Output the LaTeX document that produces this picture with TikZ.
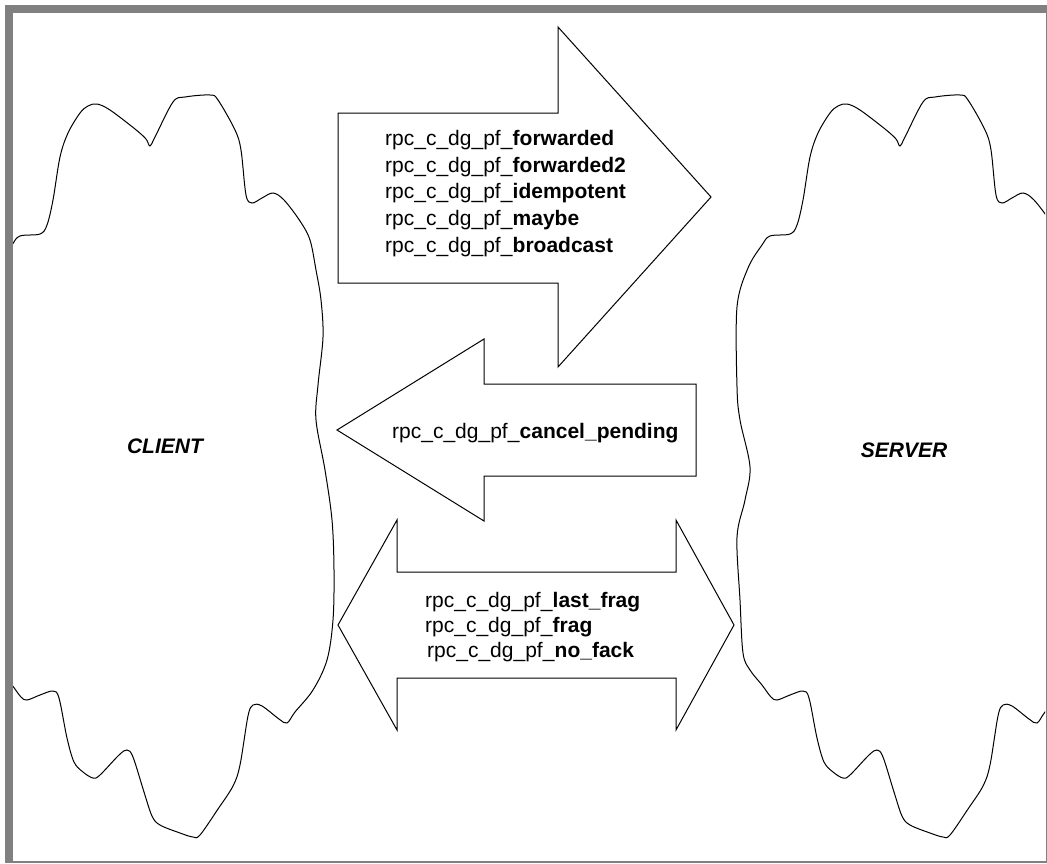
\documentclass[tikz,border=0pt]{standalone}
\usepackage{fontspec}
\setmainfont{Liberation Sans}
\definecolor{frame}{HTML}{808080}

% outline of one cloud, in pixel units
\newcommand\cloudline{plot[smooth cycle,tension=.55] coordinates {
  (20,236) (40,234) (47,225) (53,200) (60,157) (68,133) (80,113) (88,106) (97,104)
  (110,110) (135,129) (146,139) (150,146) (155,137) (173,102) (185,97) (210,95)
  (218,100) (235,130) (241,150) (246,195) (252,203) (262,198) (273,193) (284,200)
  (300,221) (310,240) (316,270) (321,300) (323,337) (318,385) (316,420) (325,470)
  (332,520) (334,570) (333,620) (327,660) (313,690) (295,712) (287,723) (279,719)
  (262,706) (253,705) (248,716) (240,765) (233,786) (218,809) (200,835) (193,837)
  (180,833) (160,825) (152,816) (144,792) (133,757) (127,750) (119,755) (100,775)
  (93,778) (83,772) (74,762) (67,738) (59,698) (53,691) (40,695) (27,700) (21,697)
  (12,685) (0,670) (-7,653) (-10,600) (-13,537) (-5,500) (0,467) (-10,420)
  (-13,387) (-13,307) (-2,268) (12,245)}}

\begin{document}
\begin{tikzpicture}[x=1pt,y=-1pt,
  shape line/.style={draw=black,line width=1pt,line join=miter,fill=white},
  flag/.style={font=\fontsize{21}{26}\selectfont,inner sep=0pt,anchor=base west},
  side/.style={font=\fontsize{21}{26}\selectfont\bfseries\itshape,inner sep=0pt},
]
\useasboundingbox (0,0) rectangle (1047,863);
\fill[white] (0,0) rectangle (1047,863);

% clouds, cut by the frame
\begin{scope}
  \clip (13,13) rectangle (1045,860);
  \draw[shape line] \cloudline;
  \begin{scope}[xshift=750pt]
    \draw[shape line] \cloudline;
  \end{scope}
\end{scope}
\node[side] (client) at (165,446) {CLIENT};
\node[side] (server) at (904,450) {SERVER};

% request arrow
\draw[shape line] (338,113) -- (558,113) -- (558,27) -- (711,197) -- (558,367)
  -- (558,283) -- (338,283) -- cycle;
\foreach \y/\id/\txt in {145/fwd/forwarded, 172/fwdtwo/forwarded2,
  198/idem/idempotent, 225/maybe/maybe, 252/bcast/broadcast}
  \node[flag] (\id) at (385,\y) {rpc\_c\_dg\_pf\_\textbf{\txt}};

% reply arrow
\draw[shape line] (337,430) -- (484,339) -- (484,384) -- (696,384) -- (696,476)
  -- (484,476) -- (484,521) -- cycle;
\node[flag] (cancel) at (392,438) {rpc\_c\_dg\_pf\_\textbf{cancel\_pending}};

% both ways
\draw[shape line] (338,625) -- (397,520) -- (397,572) -- (676,572) -- (676,520)
  -- (734,625) -- (676,730) -- (676,678) -- (397,678) -- (397,730) -- cycle;
\node[flag] (lastfrag) at (425,607) {rpc\_c\_dg\_pf\_\textbf{last\_frag}};
\node[flag] (frag) at (425,632) {rpc\_c\_dg\_pf\_\textbf{frag}};
\node[flag] (nofack) at (427,657) {rpc\_c\_dg\_pf\_\textbf{no\_fack}};

% frame
\fill[frame] (5,5) rectangle (1047,13);
\fill[frame] (5,5) rectangle (13,863);
\fill[frame] (13,860.5) rectangle (1047,863);
\fill[frame] (1045.5,13) rectangle (1047,863);
\end{tikzpicture}
\end{document}
